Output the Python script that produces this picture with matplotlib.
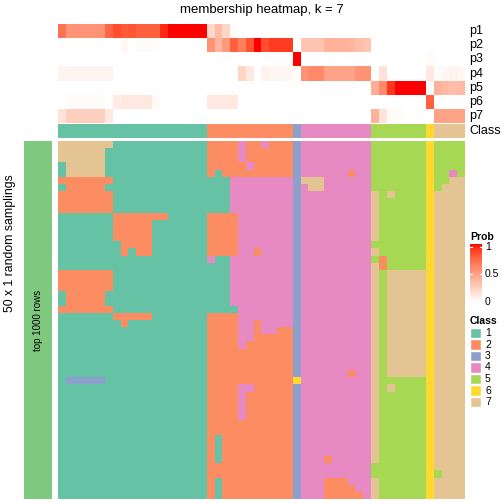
import numpy as np
import matplotlib
matplotlib.use('Agg')
import matplotlib.pyplot as plt
from matplotlib.colors import ListedColormap
from matplotlib.patches import Rectangle

plt.rcParams['font.family'] = ['Liberation Sans', 'DejaVu Sans']

# ---- data ----
title = "membership heatmap, k = 7"
class_labels = ['1', '2', '3', '4', '5', '6', '7']
class_colors = ['#66C2A5', '#FC8D62', '#8DA0CB', '#E78AC3', '#A6D854', '#FFD92F', '#E5C494']
prob_names = ['p1', 'p2', 'p3', 'p4', 'p5', 'p6', 'p7']

# class of each of the 52 columns
column_class = "1111111111111111111 22222222222 3 444444444 5555555 6 7777"

p1 = [0.7, 0.55, 0.55, 0.55, 0.55, 0.55, 0.75, 0.85, 0.8, 0.82, 0.78, 0.78, 0.78, 0.95, 1, 1, 1, 1, 1,
      0.2, 0.35, 0.22, 0.02, 0, 0, 0, 0, 0, 0, 0,
      0, 0, 0, 0, 0, 0, 0, 0, 0, 0, 0, 0, 0, 0, 0, 0, 0, 0, 0, 0, 0, 0]
p2 = [0, 0, 0, 0, 0, 0, 0, 0, 0.04, 0, 0.02, 0.02, 0.01, 0, 0, 0, 0, 0, 0,
      0.55, 0.38, 0.52, 0.78, 0.65, 0.82, 1, 0.85, 0.9, 0.9, 0.9,
      0, 0.3, 0.3, 0.3, 0.4, 0.4, 0.4, 0.38, 0.33, 0.3, 0, 0, 0, 0, 0, 0, 0, 0, 0, 0, 0, 0]
p3 = [0, 0, 0, 0, 0, 0, 0, 0, 0, 0, 0, 0, 0, 0, 0, 0, 0, 0, 0,
      0, 0, 0, 0, 0, 0, 0, 0, 0, 0, 0,
      1, 0, 0, 0, 0, 0, 0, 0, 0, 0, 0, 0, 0, 0, 0, 0, 0, 0.02, 0, 0, 0, 0]
p4 = [0.06, 0.06, 0.06, 0.06, 0.06, 0.06, 0.06, 0, 0, 0, 0, 0, 0, 0, 0, 0, 0, 0, 0,
      0, 0, 0, 0, 0.22, 0.12, 0, 0.07, 0.05, 0.04, 0.04,
      0, 0.55, 0.6, 0.6, 0.47, 0.47, 0.47, 0.48, 0.55, 0.55, 0, 0.15, 0, 0, 0, 0, 0, 0.12, 0.02, 0.04, 0.06, 0.04]
p5 = [0, 0, 0, 0, 0, 0, 0, 0, 0, 0, 0, 0, 0, 0, 0, 0, 0, 0, 0,
      0, 0, 0, 0, 0, 0, 0, 0, 0, 0, 0,
      0, 0, 0, 0, 0, 0, 0, 0, 0, 0, 0.42, 0.6, 0.92, 1, 1, 1, 1, 0, 0.4, 0.36, 0.33, 0.36]
p6 = [0, 0.02, 0.02, 0.02, 0.02, 0.02, 0, 0.1, 0.12, 0.12, 0.12, 0.12, 0.03, 0, 0, 0, 0, 0, 0,
      0.12, 0.12, 0.12, 0.12, 0, 0, 0, 0, 0, 0, 0,
      0, 0, 0, 0, 0, 0, 0, 0, 0, 0, 0, 0, 0, 0, 0, 0, 0, 0.78, 0, 0, 0, 0]
p7 = [0.15, 0.25, 0.25, 0.25, 0.25, 0.25, 0.12, 0, 0, 0, 0, 0, 0, 0, 0, 0, 0, 0, 0,
      0, 0, 0, 0, 0, 0, 0, 0, 0, 0, 0,
      0, 0, 0, 0, 0, 0, 0, 0, 0, 0, 0.4, 0.15, 0.02, 0.02, 0, 0, 0, 0, 0.48, 0.48, 0.48, 0.48]

# 50 random samplings x 52 columns, class per cell
samplings = [
    "7777777111111111111 22224224222 3 444444444 5555555 6 5555",
    "7777771111111111111 22224222222 3 444444444 5555555 6 5555",
    "7777771111111111111 22224222222 3 444444444 5555555 6 5555",
    "1777771111111111111 22222422222 3 444444444 5555555 6 5555",
    "1777771111111111111 21222222222 3 444444244 5555555 6 5545",
    "2222222111111111111 11144444444 3 777444444 5555555 6 5577",
    "1222221111111111111 11144444444 3 477444444 5555555 6 5777",
    "2222222111111111111 11144444444 3 444444444 7575555 6 7777",
    "2222222111111111111 11144444444 3 444444444 7555555 6 7777",
    "2222222111111111111 11144444444 3 444444444 7555555 6 7777",
    "1111111222222211111 22224444444 3 444444444 7555555 6 7777",
    "1111111222221111111 22224444444 3 444444444 7555555 6 7777",
    "1111111222221111111 22224444444 3 444444444 7555555 6 7777",
    "1111111222221111111 22224444444 3 444444444 7555555 6 7777",
    "1111111122221111111 22224444444 3 444444444 5555555 6 7777",
    "1111111121221111111 22224424444 3 444444444 7555555 6 7777",
    "1111111111111111111 41144444444 3 444444444 5255555 6 7777",
    "1111111111111111111 11144444444 3 444444444 7255555 6 7777",
    "2222222111111111111 11144444444 3 444444444 7577777 6 7777",
    "2222222111111111111 11144444444 3 444444444 7577777 6 7777",
    "2222222111111111111 11144444444 3 444444444 7577777 6 7777",
    "1222221111111111111 11144444444 3 444444444 7577777 6 7777",
    "1222221111111111111 11144444444 3 444444444 7577777 6 7777",
    "2222222111111111111 11114444444 3 444444444 7577777 6 7777",
    "1111111222221111111 22224444444 3 444444444 7577777 6 7777",
    "1111111121111111111 22224424444 3 444444444 7577777 6 7777",
    "1111111111111111111 22224424422 3 444444444 7577777 6 7777",
    "1111111111111111111 22224422222 3 444444444 7577777 6 7777",
    "1111111111111111111 22224222222 3 444444444 7577777 6 7777",
    "1111111111111111111 22222222222 3 444444444 7577777 6 7777",
    "1111111111111111111 22222222222 3 444444444 7577777 6 7777",
    "1111111111111111111 22222222222 3 444444444 7577777 6 7777",
    "1111111111111111111 22222222222 3 444444244 7577777 6 7777",
    "1333331111111111111 22222222222 6 444444444 7555555 6 7777",
    "1111111111111111111 22224422222 3 444444444 7575555 6 7777",
    "1111111111111111111 22224222222 3 444444444 7555555 6 7777",
    "1111111111111111111 22224222222 3 444444444 7555555 6 7777",
    "1111111111111111111 22224222222 3 444444444 7555555 6 7777",
    "1111111111111111111 22224222222 3 444444444 7555555 6 7777",
    "1111111111111111111 22222222222 3 444444444 7555555 6 7777",
    "1111111111111111111 22222222222 3 444444444 7555555 6 7777",
    "1111111111111111111 21222222222 3 444444444 7555555 6 7777",
    "1111111111111111111 21222222222 3 444444444 7555555 6 7777",
    "1111111111111111111 21222222222 3 444444444 7555555 6 7777",
    "1111111111111111111 21222222222 3 444244444 7555555 6 7777",
    "1111111111111111111 22222222222 3 444444444 5555555 6 7777",
    "1111111111111111111 22222222222 3 444444444 5555555 6 5777",
    "1111111111111111111 21222222222 3 444222444 7555555 6 7777",
    "1111111111111111111 21222222222 3 444222244 7555555 6 7777",
    "1111111111111111111 21222222222 3 444222224 7555555 6 7777",
]
prob_ticks = [0, 0.5, 1]


def to_ints(s):
    return [int(ch) for ch in s.replace(' ', '')]


# white -> red ramp interpolated in Lab space, like colorRamp2
def srgb_to_lab(rgb):
    rgb = np.asarray(rgb, float)
    lin = np.where(rgb <= 0.04045, rgb / 12.92, ((rgb + 0.055) / 1.055) ** 2.4)
    m = np.array([[0.4124, 0.3576, 0.1805], [0.2126, 0.7152, 0.0722], [0.0193, 0.1192, 0.9505]])
    xyz = m @ lin / np.array([0.95047, 1.0, 1.08883])
    f = np.where(xyz > 0.008856, np.cbrt(xyz), 7.787 * xyz + 16 / 116)
    return np.array([116 * f[1] - 16, 500 * (f[0] - f[1]), 200 * (f[1] - f[2])])


def lab_to_srgb(lab):
    L, a, b = lab
    fy = (L + 16) / 116
    fx = fy + a / 500
    fz = fy - b / 200
    f = np.array([fx, fy, fz])
    xyz = np.where(f ** 3 > 0.008856, f ** 3, (f - 16 / 116) / 7.787) * np.array([0.95047, 1.0, 1.08883])
    mi = np.array([[3.2406, -1.5372, -0.4986], [-0.9689, 1.8758, 0.0415], [0.0557, -0.2040, 1.0570]])
    lin = mi @ xyz
    rgb = np.where(lin <= 0.0031308, 12.92 * lin, 1.055 * np.clip(lin, 0, None) ** (1 / 2.4) - 0.055)
    return np.clip(rgb, 0, 1)


lab_w = srgb_to_lab([1, 1, 1])
lab_r = srgb_to_lab([1, 0, 0])
prob_cmap = ListedColormap([lab_to_srgb(lab_w + (lab_r - lab_w) * t) for t in np.linspace(0, 1, 256)])
class_cmap = ListedColormap(class_colors)

W = H = 504


def box(x0, y0, x1, y1):
    return [x0 / W, 1 - y1 / H, (x1 - x0) / W, (y1 - y0) / H]


fig = plt.figure(figsize=(5.04, 5.04), dpi=100)

# top annotation: membership probabilities
prob = np.array([p1, p2, p3, p4, p5, p6, p7])
ax_p = fig.add_axes(box(58, 24, 465, 123))
ax_p.imshow(prob, cmap=prob_cmap, vmin=0, vmax=1, aspect='auto', interpolation='nearest')
ax_p.axis('off')

# class bar
ax_c = fig.add_axes(box(58, 124, 465, 138))
ax_c.imshow([to_ints(column_class)], cmap=class_cmap, vmin=0.5, vmax=7.5,
            aspect='auto', interpolation='nearest')
ax_c.axis('off')

# main heatmap
mat = np.array([to_ints(r) for r in samplings])
ax_m = fig.add_axes(box(58, 141, 465, 499))
ax_m.imshow(mat, cmap=class_cmap, vmin=0.5, vmax=7.5, aspect='auto', interpolation='nearest')
ax_m.axis('off')

# left row-group bar
ax_l = fig.add_axes(box(24, 141, 52, 499))
ax_l.set_facecolor('#7FC97F')
ax_l.set_xticks([])
ax_l.set_yticks([])
for s in ax_l.spines.values():
    s.set_visible(False)
ax_l.text(0.5, 0.5, "top 1000 rows", rotation=90, ha='center', va='center',
          fontsize=7, transform=ax_l.transAxes)

# overlay in pixel coordinates for texts and legends
ov = fig.add_axes([0, 0, 1, 1])
ov.set_xlim(0, W)
ov.set_ylim(H, 0)
ov.axis('off')

ov.text(261.5, 10, title, ha='center', va='center', fontsize=9.5)
ov.text(10, 243, "50 x 1 random samplings", rotation=90, ha='center', va='center', fontsize=8.8)

row_h = (123 - 24) / len(prob_names)
for i, name in enumerate(prob_names):
    ov.text(469, 24 + row_h * (i + 0.5), name, ha='left', va='center', fontsize=9)
ov.text(469, 131, "Class", ha='left', va='center', fontsize=9)

# Prob legend
ov.text(470, 237, "Prob", ha='left', va='center', fontsize=7.5, fontweight='bold')
ax_cb = fig.add_axes(box(470, 244, 482, 302))
ax_cb.imshow(np.linspace(1, 0, 100)[:, None], cmap=prob_cmap, vmin=0, vmax=1,
             aspect='auto', extent=[0, 1, 0, 1.05])
ax_cb.axis('off')
for t in prob_ticks:
    ax_cb.plot([0, 0.2], [t, t], color='white', lw=0.8)
    ax_cb.plot([0.8, 1], [t, t], color='white', lw=0.8)
    ax_cb.text(1.25, t, f"{t:g}", transform=ax_cb.transData, ha='left', va='center',
               fontsize=7.5, clip_on=False)
ax_cb.set_xlim(0, 1)
ax_cb.set_ylim(0, 1.05)

# Class legend
ov.text(470, 321, "Class", ha='left', va='center', fontsize=7.5, fontweight='bold')
for i, (lab, col) in enumerate(zip(class_labels, class_colors)):
    yc = 333 + 11.5 * i
    ov.add_patch(Rectangle((470, yc - 5.2), 11, 10.4, facecolor=col, edgecolor='white', lw=1))
    ov.text(485, yc, lab, ha='left', va='center', fontsize=7.5)

fig.savefig('out.png', dpi=100)
